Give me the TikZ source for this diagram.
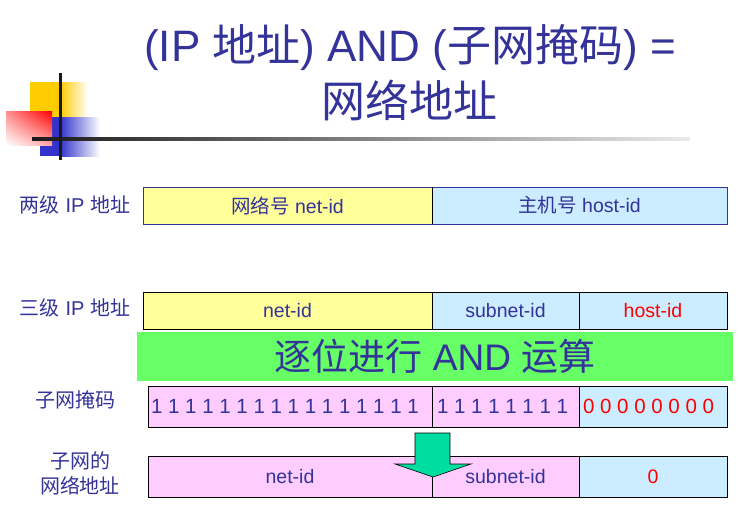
\documentclass[tikz,border=0pt]{standalone}
\usepackage{fontspec}
\usetikzlibrary{shadings}
\setmainfont{Liberation Sans}
\newfontfamily\cjk{Noto Sans CJK SC}
\begin{document}
\definecolor{ink}{RGB}{51,51,153}
\definecolor{netyellow}{RGB}{255,255,153}
\definecolor{hostblue}{RGB}{204,236,255}
\definecolor{maskpink}{RGB}{255,204,255}
\definecolor{andgreen}{RGB}{102,255,102}
\definecolor{arrowgreen}{RGB}{0,221,160}
\definecolor{logoyellow}{RGB}{255,204,0}
\definecolor{logoblue}{RGB}{51,51,204}
\begin{tikzpicture}[x=1pt,y=-1pt,
  every node/.style={inner sep=0pt, outer sep=0pt},
  cell/.style={draw=black, line width=1pt, anchor=north west, minimum height=#1, text=ink, font=\fontsize{19.5}{22}\selectfont},
  cell/.default=37,
  bits/.style={anchor=west, text=ink, font=\fontsize{20.5}{22}\selectfont},
  rowlabel/.style={text=ink, font=\fontsize{20}{25}\selectfont, align=center},
  titletext/.style={text=ink, font=\fontsize{44}{56}\selectfont, align=center}]
\useasboundingbox (0,0) rectangle (740,506);

% corner logo
\fill[logoyellow] (30,82) rectangle (60,117);
\shade[left color=logoyellow, right color=white] (60,82) rectangle (88,117);
\fill[logoblue] (40,117) rectangle (60,156);
\shade[left color=logoblue, right color=white] (60,117) rectangle (100,156);
\shade[upper right=red, upper left=red!45, lower right=red!35, lower left=white] (6,111) rectangle (52,145);
\shade[left color=black!90, right color=black!8] (32,137.5) rectangle (690,140.5);
\fill[black!90] (59,73) rectangle (62,160);

% title
\node[titletext] (title) at (410,73) {(IP {\cjk 地址}) AND ({\cjk 子网掩码}) =\\{\cjk 网络地址}};

% two-level address
\node[rowlabel] (lab1) at (75,205) {{\cjk 两级} IP {\cjk 地址}};
\node[cell, draw=ink, fill=netyellow, minimum width=289] (a1) at (143,187) {{\cjk 网络号} net-id};
\node[cell, draw=ink, fill=hostblue, minimum width=295] (a2) at (432,187) {{\cjk 主机号} host-id};
\draw[black, line width=1pt] (a1.north east) -- (a1.south east);

% three-level address
\node[rowlabel] (lab2) at (75,308) {{\cjk 三级} IP {\cjk 地址}};
\node[cell, fill=netyellow, minimum width=289] (b1) at (143,292) {net-id};
\node[cell, fill=hostblue, minimum width=147] (b2) at (432,292) {subnet-id};
\node[cell, fill=hostblue, minimum width=148, text=red] (b3) at (579,292) {host-id};

% bitwise AND banner
\node[fill=andgreen, minimum width=596, minimum height=49, anchor=north west, text=ink,
      font=\fontsize{37}{40}\selectfont] (and) at (137,332) {{\cjk 逐位进行} AND {\cjk 运算}};

% subnet mask
\node[rowlabel] (lab3) at (75,400) {\cjk 子网掩码};
\node[cell=41, fill=maskpink, minimum width=284] (c1) at (148,386) {};
\node[cell=41, fill=maskpink, minimum width=147] (c2) at (432,386) {};
\node[cell=41, fill=hostblue, minimum width=148] (c3) at (579,386) {};
\node[bits] (c1t) at ([xshift=3]c1.west) {1 1 1 1 1 1 1 1 1 1 1 1 1 1 1 1};
\node[bits] (c2t) at ([xshift=5]c2.west) {1 1 1 1 1 1 1 1};
\node[bits, text=red] (c3t) at ([xshift=4]c3.west) {0 0 0 0 0 0 0 0};

% subnet network address
\node[rowlabel] (lab4) at (80,473) {{\cjk 子网的}\\{\cjk 网络地址}};
\node[cell=41, fill=maskpink, minimum width=284] (d1) at (148,456) {net-id};
\node[cell=41, fill=maskpink, minimum width=147] (d2) at (432,456) {subnet-id};
\node[cell=41, fill=hostblue, minimum width=148, text=red] (d3) at (579,456) {0};

% result arrow
\filldraw[fill=arrowgreen, draw=black, line width=0.6pt] (415,433) -- (450,433) -- (450,464) -- (471,464) -- (433,477) -- (395,464) -- (415,464) -- cycle;
\end{tikzpicture}
\end{document}
